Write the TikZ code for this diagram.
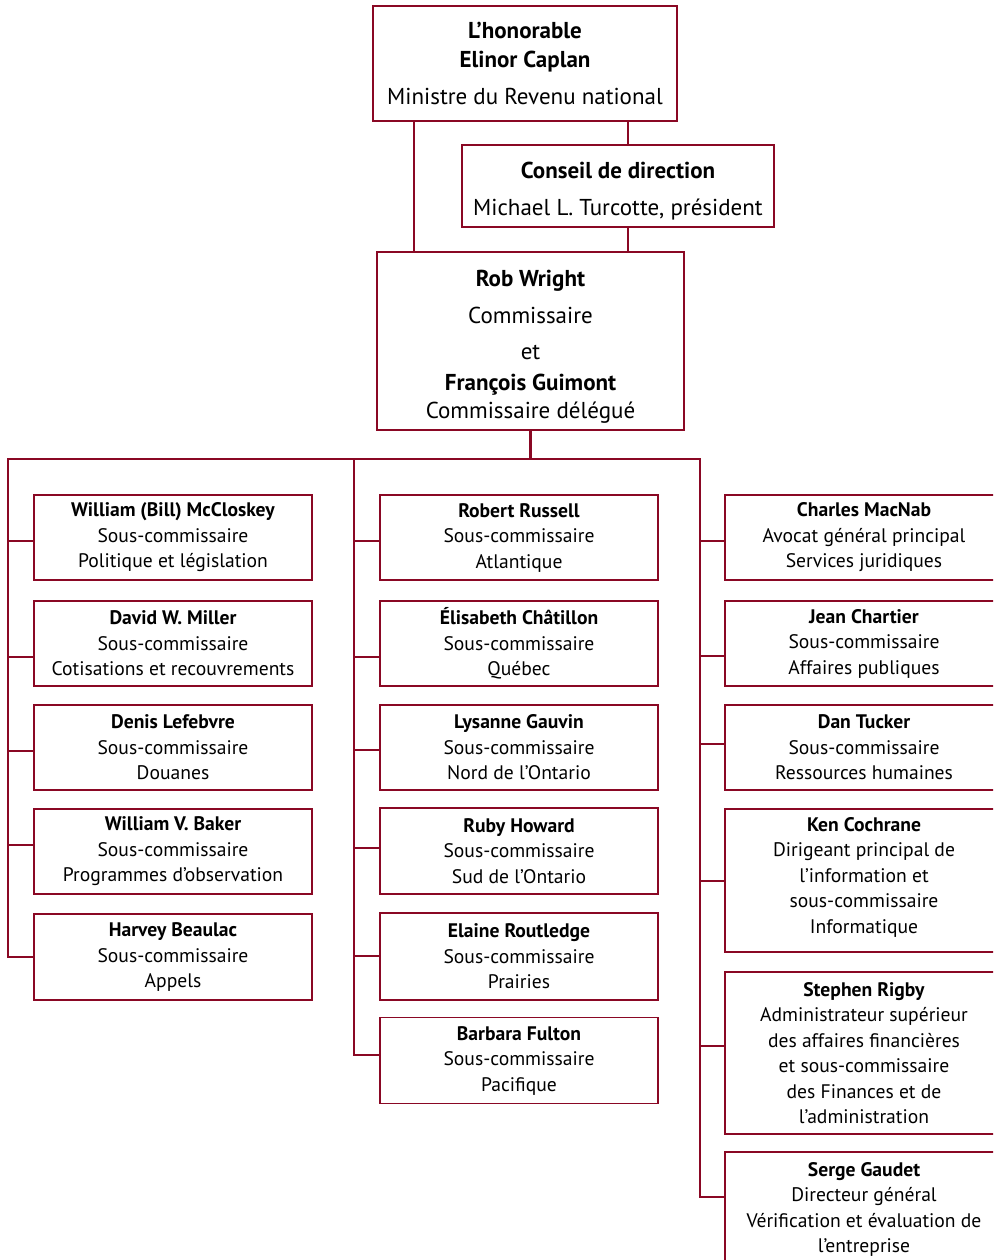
\documentclass[tikz,border=0pt]{standalone}
\usepackage{fontspec}
\setmainfont{PT Sans}
\definecolor{crvred}{RGB}{138,8,36}
\begin{document}
\begin{tikzpicture}[x=1pt,y=-1pt,
  link/.style={draw=crvred,line width=2.7pt},
  headbox/.style={draw=crvred,line width=2.5pt,fill=white,align=center,inner sep=0pt},
  unitbox/.style={draw=crvred,line width=1.3pt,fill=white,align=center,inner sep=0pt,
    minimum width=278pt,font=\fontsize{19.6}{25.5}\selectfont},
]
\useasboundingbox (0,0) rectangle (993,1260);
\clip (0,0) rectangle (993,1260);

% ---- top of the hierarchy
\node[headbox,minimum width=304pt,minimum height=115pt,font=\fontsize{23}{29}\selectfont]
  (min) at (525,63.5) {\textbf{L’honorable}\\\textbf{Elinor Caplan}\\[8pt]Ministre du Revenu national};
\node[headbox,minimum width=312pt,minimum height=82pt,font=\fontsize{23}{37}\selectfont]
  (cd) at (618,186) {\rule{0pt}{26pt}\textbf{Conseil de direction}\\Michael L. Turcotte, président};
\node[headbox,minimum width=307pt,minimum height=178pt,font=\fontsize{23}{26}\selectfont]
  (com) at (530.5,341) {\rule{0pt}{28pt}\textbf{Rob Wright}\\[11pt]Commissaire\\[10pt]et\\[5pt]\textbf{François Guimont}\\[2pt]Commissaire délégué};

\coordinate (ml) at (414,0);
\coordinate (mr) at (628,0);
\draw[link] (min.south -| ml) -- (com.north -| ml);
\draw[link] (min.south -| mr) -- (cd.north -| mr);
\draw[link] (cd.south -| mr) -- (com.north -| mr);

% ---- distribution bus
\coordinate (busL) at (8,459);
\coordinate (busM) at (354,459);
\coordinate (busR) at (700,459);
\draw[link] (com.south) -- (com.south |- busL);

% ---- left column
\node[unitbox,minimum height=85pt] (l1) at (173,537.5) {\textbf{William (Bill) McCloskey}\\Sous-commissaire\\Politique et législation};
\node[unitbox,minimum height=85pt] (l2) at (173,643.5) {\textbf{David W. Miller}\\Sous-commissaire\\Cotisations et recouvrements};
\node[unitbox,minimum height=85pt] (l3) at (173,747.5) {\textbf{Denis Lefebvre}\\Sous-commissaire\\Douanes};
\node[unitbox,minimum height=85pt] (l4) at (173,851.5) {\textbf{William V. Baker}\\Sous-commissaire\\Programmes d’observation};
\node[unitbox,minimum height=86pt] (l5) at (173,957) {\textbf{Harvey Beaulac}\\Sous-commissaire\\Appels};

% ---- middle column
\node[unitbox,minimum height=85pt] (m1) at (519,537.5) {\textbf{Robert Russell}\\Sous-commissaire\\Atlantique};
\node[unitbox,minimum height=85pt] (m2) at (519,643.5) {\textbf{Élisabeth Châtillon}\\Sous-commissaire\\Québec};
\node[unitbox,minimum height=85pt] (m3) at (519,747.5) {\textbf{Lysanne Gauvin}\\Sous-commissaire\\Nord de l’Ontario};
\node[unitbox,minimum height=86pt] (m4) at (519,851) {\textbf{Ruby Howard}\\Sous-commissaire\\Sud de l’Ontario};
\node[unitbox,minimum height=87pt] (m5) at (519,956.5) {\textbf{Elaine Routledge}\\Sous-commissaire\\Prairies};
\node[unitbox,minimum height=86pt] (m6) at (519,1060.5) {\textbf{Barbara Fulton}\\Sous-commissaire\\Pacifique};

% ---- right column
\node[unitbox,minimum height=85pt] (r1) at (864,537.5) {\textbf{Charles MacNab}\\Avocat général principal\\Services juridiques};
\node[unitbox,minimum height=85pt] (r2) at (864,643.5) {\textbf{Jean Chartier}\\Sous-commissaire\\Affaires publiques};
\node[unitbox,minimum height=85pt] (r3) at (864,747.5) {\textbf{Dan Tucker}\\Sous-commissaire\\Ressources humaines};
\node[unitbox,minimum height=143pt] (r4) at (864,880.5) {\textbf{Ken Cochrane}\\Dirigeant principal de\\l’information et\\sous-commissaire\\Informatique\rule[-11pt]{0pt}{1pt}};
\node[unitbox,minimum height=162pt] (r5) at (864,1053) {\textbf{Stephen Rigby}\\Administrateur supérieur\\des affaires financières\\et sous-commissaire\\des Finances et de\\l’administration};
\node[unitbox,minimum height=136pt] (r6) at (864,1220) {\rule{0pt}{22pt}\textbf{Serge Gaudet}\\Directeur général\\Vérification et évaluation de\\l’entreprise\\\strut};

% ---- bus with the two outer columns, and the middle column
\draw[link] (l5.west |- 0,957) -| (busL) -- (busR) |- (r6.west |- 0,1197);
\draw[link] (busM) |- (m6.west |- 0,1055);

\draw[link] (l1.west |- 0,541) -- (busL |- 0,541);
\draw[link] (l2.west |- 0,657) -- (busL |- 0,657);
\draw[link] (l3.west |- 0,751) -- (busL |- 0,751);
\draw[link] (l4.west |- 0,845) -- (busL |- 0,845);

\draw[link] (m1.west |- 0,541) -- (busM |- 0,541);
\draw[link] (m2.west |- 0,657) -- (busM |- 0,657);
\draw[link] (m3.west |- 0,750) -- (busM |- 0,750);
\draw[link] (m4.west |- 0,848) -- (busM |- 0,848);
\draw[link] (m5.west |- 0,956) -- (busM |- 0,956);

\draw[link] (r1.west |- 0,541) -- (busR |- 0,541);
\draw[link] (r2.west |- 0,656) -- (busR |- 0,656);
\draw[link] (r3.west |- 0,744) -- (busR |- 0,744);
\draw[link] (r4.west |- 0,881) -- (busR |- 0,881);
\draw[link] (r5.west |- 0,1046) -- (busR |- 0,1046);
\end{tikzpicture}
\end{document}
